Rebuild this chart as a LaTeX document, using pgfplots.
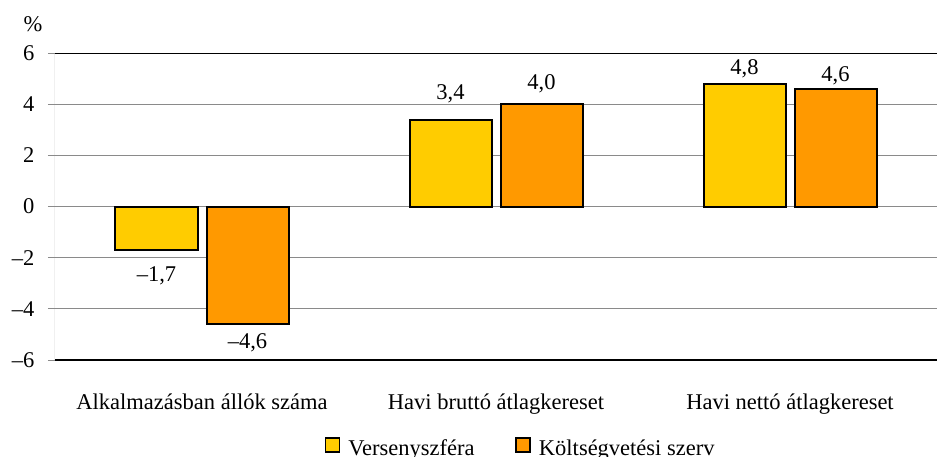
\documentclass[border=0pt]{standalone}
\usepackage{fontspec}
\setmainfont{Liberation Serif}
\usepackage{pgfplots}
\usepackage{pgfplotstable}
\pgfplotsset{compat=1.18}
\definecolor{vyel}{HTML}{FFCC00}
\definecolor{vorg}{HTML}{FF9900}
\definecolor{gridg}{HTML}{8A8A8A}
\pgfplotstableread{
x y label dy
0 -1.7 –1,7 -26
1 3.4 3,4 26
2 4.8 4,8 15
}\versenyt
\pgfplotstableread{
x y label dy
0 -4.6 –4,6 -19
1 4.0 4,0 20
2 4.6 4,6 13
}\koltsegt
\begin{document}
\begin{tikzpicture}[font=\fontsize{22.5}{27}\selectfont]
\begin{axis}[
  at={(0pt,0pt)}, anchor=south west,
  scale only axis, width=882pt, height=307pt,
  xmin=-0.5, xmax=2.5, ymin=-6, ymax=6,
  xtick={0,1,2},
  xticklabels={Alkalmazásban állók száma, Havi bruttó átlagkereset, Havi nettó átlagkereset},
  x tick style={draw=none},
  xticklabel style={yshift=-23pt},
  ytick={-6,-4,-2,0,2,4,6},
  yticklabels={–6,–4,–2,0,2,4,6},
  ytick pos=left, tick align=outside, major tick length=7pt,
  y tick style={gridg, line width=1pt},
  yticklabel style={xshift=-10pt},
  ymajorgrids, grid style={gridg, line width=1pt},
  axis line style={draw=none},
  ybar=9pt, bar width=82pt,
  nodes near coords, point meta=explicit symbolic,
  visualization depends on={\thisrow{dy} \as \labdy},
  every node near coord/.append style={font=\fontsize{22.5}{27}\selectfont, black,
    anchor=center, yshift=\labdy pt},
  legend columns=2,
  legend style={at={(0.528,-0.287)}, anchor=center, draw=none, fill=none,
    font=\fontsize{22.5}{27}\selectfont,
    /tikz/every odd column/.append style={column sep=6pt},
    /tikz/every even column/.append style={column sep=39pt}},
  legend image code/.code={\draw[#1, draw=black, line width=1.5pt] (0pt,-4pt) rectangle (14pt,10pt);},
]
\addplot[fill=vyel, draw=black, line width=2pt] table[x=x, y=y, meta=label] {\versenyt};
\addplot[fill=vorg, draw=black, line width=2pt] table[x=x, y=y, meta=label] {\koltsegt};
\legend{Versenyszféra, Költségvetési szerv}
\draw[gridg, line width=1pt] (rel axis cs:0,0) -- (rel axis cs:0,1);
\draw[black, line width=1.3pt] (rel axis cs:0,0) -- (rel axis cs:1,0);
\draw[black, line width=1.3pt] (rel axis cs:0,1) -- (rel axis cs:1,1);
\end{axis}
\node at (-22pt,336pt) {\%};
\pgfresetboundingbox
\path[use as bounding box] (-55pt,-96pt) rectangle (882pt,360pt);
\end{tikzpicture}
\end{document}
